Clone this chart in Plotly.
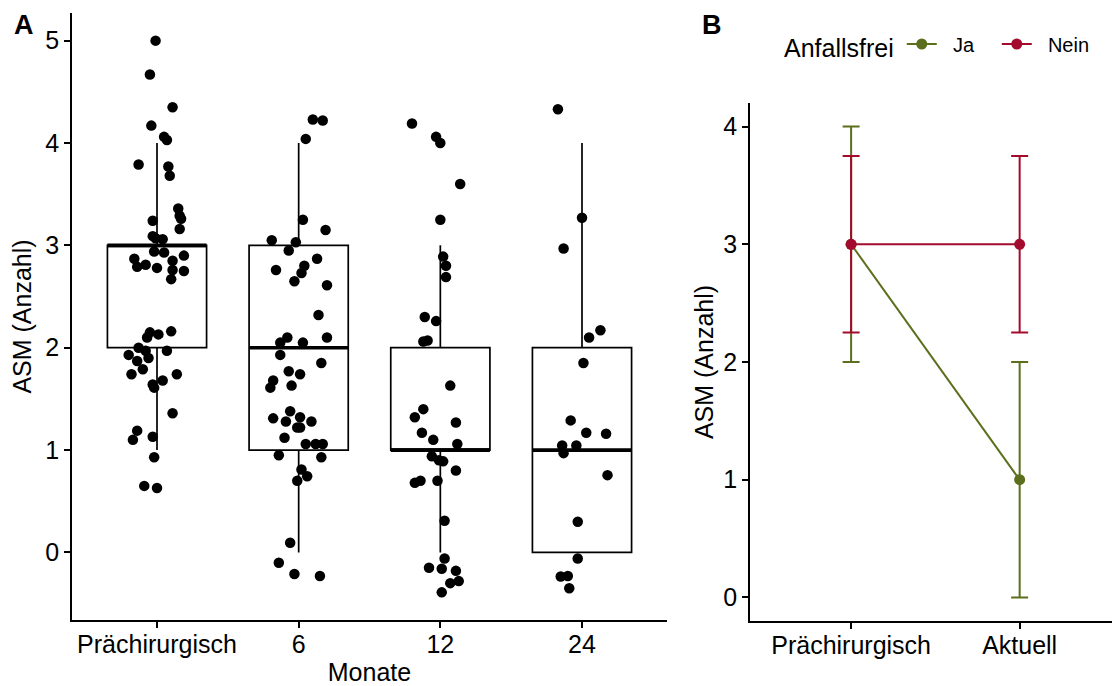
import plotly.graph_objects as go

# ---------------- Panel A data ----------------
groups = ["Prächirurgisch", "6", "12", "24"]
group_pos = [1, 2, 3, 4]

# box statistics (whisker low, q1, median, q3, whisker high)
box_low = [1, 0, 0, 0]
box_q1 = [2, 1, 1, 0]
box_med = [3, 2, 1, 1]
box_q3 = [3, 3, 2, 2]
box_high = [4, 4, 3, 4]

# jittered observations: horizontal jitter offset and (jittered) value
g1_dx = [-0.01, -0.05, 0.11, -0.04, 0.05, 0.07, -0.13, 0.08, 0.09, 0.15, 0.16, 0.17, -0.03, 0.16,
         -0.03, 0.04, -0.01, -0.02, 0.05, -0.16, -0.08, -0.14, 0.0, 0.11, 0.19, 0.11, 0.19, 0.10,
         0.10, -0.05, 0.01, -0.07, -0.13, -0.08, 0.07, -0.20, -0.14, -0.06, -0.18, -0.10, 0.14,
         0.04, -0.03, -0.02, 0.11, -0.14, -0.17, -0.03, -0.02, -0.09, 0.0]
g1_y = [5.00, 4.67, 4.35, 4.17, 4.06, 4.03, 3.79, 3.77, 3.68, 3.36, 3.29, 3.26, 3.24, 3.16,
        3.09, 3.06, 3.07, 2.94, 2.93, 2.87, 2.81, 2.79, 2.78, 2.85, 2.90, 2.76, 2.75, 2.67,
        2.16, 2.15, 2.13, 2.10, 2.00, 1.97, 1.97, 1.93, 1.87, 1.90, 1.74, 1.79, 1.74,
        1.68, 1.64, 1.61, 1.36, 1.19, 1.10, 1.13, 0.93, 0.65, 0.63]

g2_dx = [0.10, 0.17, 0.05, 0.03, 0.19, -0.19, -0.02, -0.07, 0.13, -0.16, 0.04, 0.02, -0.03, 0.20,
         0.14, -0.08, -0.13, 0.03, 0.20, -0.13, 0.16, -0.07, 0.01, -0.18, -0.20, -0.05, -0.06,
         -0.18, -0.09, 0.01, 0.09, -0.01, 0.01, -0.10, 0.05, 0.12, 0.17, -0.14, 0.16, 0.02, 0.06,
         -0.01, -0.06, -0.14, -0.03, 0.15]
g2_y = [4.23, 4.22, 4.04, 3.25, 3.15, 3.05, 3.03, 2.95, 2.87, 2.76, 2.80, 2.73, 2.65, 2.61,
        2.32, 2.10, 2.05, 2.05, 2.10, 1.93, 1.85, 1.77, 1.74, 1.68, 1.61, 1.63, 1.38,
        1.31, 1.28, 1.32, 1.28, 1.22, 1.22, 1.12, 1.06, 1.06, 1.06, 0.95, 0.93, 0.81, 0.745,
        0.70, 0.095, -0.10, -0.21, -0.23]

g3_dx = [-0.20, -0.03, 0.0, 0.14, 0.0, 0.02, 0.04, 0.04, -0.11, -0.03, -0.12, -0.09, 0.07, -0.12,
         -0.18, 0.11, -0.13, -0.05, 0.12, -0.06, -0.01, 0.02, 0.11, -0.18, -0.14, -0.02, 0.03,
         0.03, -0.08, 0.01, 0.11, 0.13, 0.07, 0.01]
g3_y = [4.19, 4.06, 4.00, 3.60, 3.25, 2.89, 2.80, 2.69, 2.30, 2.26, 2.06, 2.07, 1.63, 1.40,
        1.32, 1.27, 1.17, 1.10, 1.06, 0.94, 0.90, 0.89, 0.80, 0.68, 0.70, 0.70, 0.31,
        -0.06, -0.15, -0.16, -0.18, -0.28, -0.30, -0.39]

g4_dx = [-0.17, 0.0, -0.13, 0.13, 0.05, 0.01, -0.08, 0.03, 0.17, -0.14, -0.04, -0.13, 0.18,
         -0.03, -0.03, -0.15, -0.10, -0.09]
g4_y = [4.33, 3.27, 2.97, 2.17, 2.10, 1.85, 1.29, 1.17, 1.16, 1.045, 1.045, 0.97, 0.755,
        0.30, -0.06, -0.235, -0.23, -0.35]

jitter_dx = [g1_dx, g2_dx, g3_dx, g4_dx]
jitter_y = [g1_y, g2_y, g3_y, g4_y]

# ---------------- Panel B data ----------------
b_categories = ["Prächirurgisch", "Aktuell"]
b_pos = [1, 2]
ja_mean = [3, 1]
ja_low = [2, 0]
ja_high = [4, 2]
nein_mean = [3, 3]
nein_low = [2.25, 2.25]
nein_high = [3.75, 3.75]

COL_JA = "#5B6F1D"
COL_NEIN = "#A20B2C"
FONT = "Liberation Sans, Arial, sans-serif"
TS = 25
BOX_W = 0.7

fig = go.Figure()

# boxes
fig.add_trace(go.Box(
    x=group_pos, q1=box_q1, median=box_med, q3=box_q3,
    lowerfence=box_low, upperfence=box_high,
    width=BOX_W, whiskerwidth=0, boxpoints=False,
    line=dict(color="black", width=1.7), fillcolor="rgba(255,255,255,0)",
    xaxis="x", yaxis="y", showlegend=False, hoverinfo="skip",
))

# thick median lines
mx, my = [], []
for p, m in zip(group_pos, box_med):
    mx += [p - BOX_W / 2, p + BOX_W / 2, None]
    my += [m, m, None]
fig.add_trace(go.Scatter(x=mx, y=my, mode="lines", line=dict(color="black", width=3.6),
                         xaxis="x", yaxis="y", showlegend=False, hoverinfo="skip"))

# jittered points
px_, py_ = [], []
for p, dxs, ys in zip(group_pos, jitter_dx, jitter_y):
    px_ += [p + d for d in dxs]
    py_ += ys
fig.add_trace(go.Scatter(x=px_, y=py_, mode="markers",
                         marker=dict(color="black", size=10.5),
                         xaxis="x", yaxis="y", showlegend=False))

# panel B
def eb(mean, low, high):
    return [h - m for h, m in zip(high, mean)], [m - l for m, l in zip(mean, low)]

ja_up, ja_dn = eb(ja_mean, ja_low, ja_high)
ne_up, ne_dn = eb(nein_mean, nein_low, nein_high)

fig.add_trace(go.Scatter(
    x=b_pos, y=ja_mean, mode="lines+markers", name="\u00a0\u00a0Ja",
    line=dict(color=COL_JA, width=2), marker=dict(color=COL_JA, size=11),
    error_y=dict(type="data", array=ja_up, arrayminus=ja_dn, color=COL_JA,
                 thickness=2, width=8.5),
    xaxis="x2", yaxis="y2"))
fig.add_trace(go.Scatter(
    x=b_pos, y=nein_mean, mode="lines+markers", name="\u00a0\u00a0Nein",
    line=dict(color=COL_NEIN, width=2), marker=dict(color=COL_NEIN, size=11),
    error_y=dict(type="data", array=ne_up, arrayminus=ne_dn, color=COL_NEIN,
                 thickness=2, width=8.5),
    xaxis="x2", yaxis="y2"))

W, H = 1113, 686
axis_common = dict(showgrid=False, zeroline=False, showline=True, linecolor="black",
                   linewidth=1.7, ticks="outside", ticklen=6, tickwidth=1.7,
                   tickcolor="black", automargin=False,
                   tickfont=dict(family=FONT, size=TS, color="black"))

fig.update_layout(
    width=W, height=H, margin=dict(l=0, r=0, t=0, b=0, autoexpand=False),
    paper_bgcolor="white", plot_bgcolor="white",
    font=dict(family=FONT, size=TS, color="black"),
    xaxis=dict(domain=[72 / W, 667 / W], range=[0.4, 4.6], tickvals=group_pos,
               ticktext=groups, anchor="y", ticklabelstandoff=-5,
               title=dict(text="Monate", font=dict(size=TS), standoff=9),
               **axis_common),
    yaxis=dict(domain=[(H - 620) / H, (H - 13) / H], range=[-0.66, 5.27],
               tickvals=[0, 1, 2, 3, 4, 5], anchor="x",
               title=dict(text="ASM (Anzahl)", font=dict(size=TS), standoff=6),
               **axis_common),
    xaxis2=dict(domain=[750 / W, 1112 / W], range=[0.4, 2.548], tickvals=b_pos,
                ticktext=b_categories, anchor="y2", ticklabelstandoff=-5, **axis_common),
    yaxis2=dict(domain=[(H - 621) / H, (H - 103) / H], range=[-0.2, 4.2],
                tickvals=[0, 1, 2, 3, 4], anchor="x2",
                title=dict(text="ASM (Anzahl)", font=dict(size=TS), standoff=2),
                **axis_common),
    legend=dict(orientation="h", x=782 / W, xanchor="left", y=(H - 46) / H, yanchor="middle",
                title=dict(text="Anfallsfrei", font=dict(size=TS)),
                font=dict(family=FONT, size=20), bgcolor="rgba(0,0,0,0)",
                entrywidth=50, entrywidthmode="pixels"),
    annotations=[
        dict(text="<b>A</b>", x=12 / W, y=(H - 25) / H, xref="paper", yref="paper",
             xanchor="left", yanchor="middle", showarrow=False, font=dict(size=27)),
        dict(text="<b>B</b>", x=700 / W, y=(H - 25) / H, xref="paper", yref="paper",
             xanchor="left", yanchor="middle", showarrow=False, font=dict(size=27)),
    ],
)

fig.write_html("out.html", config={"displayModeBar": False},
               post_script="document.body.style.margin='0px';document.body.style.overflow='hidden';")
